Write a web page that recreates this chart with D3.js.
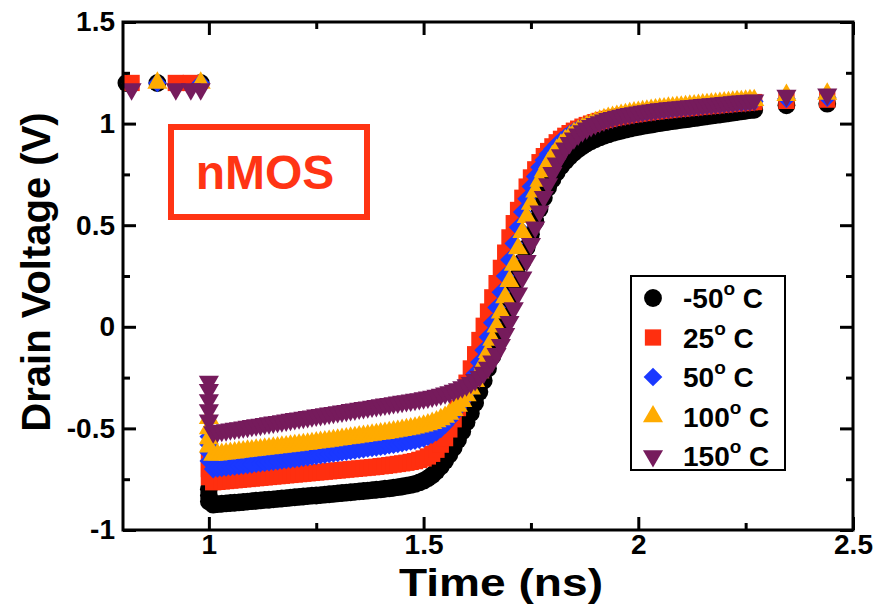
<!DOCTYPE html>
<html>
<head>
<meta charset="utf-8">
<script src="https://cdn.jsdelivr.net/npm/d3@7"></script>
<style>
  html, body { margin: 0; padding: 0; background: #ffffff; }
  svg { display: block; font-family: "Liberation Sans", Arial, sans-serif; }
</style>
</head>
<body>
<svg id="chart" width="888" height="605"></svg>
<script>
// ---- data: drain voltage (V) vs. time (ns) for five temperatures ----
const seriesLabels = ["-50", "25", "50", "100", "150"];

// sparse samples before the input edge
const leadTimes = [0.808, 0.82, 0.88, 0.923, 0.958, 0.981];
const leadM50 = [1.2, null, 1.2, null, null, 1.2];
const lead25  = [null, 1.2, null, 1.2, 1.2, null];
const lead50  = [null, null, 1.2, null, null, 1.2];
const lead100 = [null, null, 1.2, null, null, 1.2];
const lead150 = [null, 1.17, null, 1.17, 1.17, 1.17];

// samples taken at the switching instant t = 1.0 ns
const stackTime = 1.0;
const stackM50 = [-0.80, -0.83, -0.86];
const stack25  = [-0.66, -0.70, -0.74];
const stack50  = [-0.54, -0.58, -0.62, -0.66];
const stack100 = [-0.45, -0.50, -0.55, -0.59];
const stack150 = [-0.27, -0.31, -0.36, -0.41, -0.46];

// dense transient samples
const timeNs = [
  1.01,1.02,1.03,1.04,1.05,1.06,1.07,1.08,1.09,1.10,
  1.11,1.12,1.13,1.14,1.15,1.16,1.17,1.18,1.19,1.20,
  1.21,1.22,1.23,1.24,1.25,1.26,1.27,1.28,1.29,1.30,
  1.31,1.32,1.33,1.34,1.35,1.36,1.37,1.38,1.39,1.40,
  1.41,1.42,1.43,1.44,1.45,1.46,1.47,1.48,1.49,1.50,
  1.51,1.52,1.53,1.54,1.55,1.56,1.57,1.58,1.59,1.60,
  1.61,1.62,1.63,1.64,1.65,1.66,1.67,1.68,1.69,1.70,
  1.71,1.72,1.73,1.74,1.75,1.76,1.77,1.78,1.79,1.80,
  1.81,1.82,1.83,1.84,1.85,1.86,1.87,1.88,1.89,1.90,
  1.91,1.92,1.93,1.94,1.95,1.96,1.97,1.98,1.99,2.00,
  2.01,2.02,2.03,2.04,2.05,2.06,2.07,2.08,2.09,2.10,
  2.11,2.12,2.13,2.14,2.15,2.16,2.17,2.18,2.19,2.20,
  2.21,2.22,2.23,2.24,2.25,2.26,2.27
];

const voltsM50 = [
  -0.875,-0.873,-0.871,-0.869,-0.867,-0.866,-0.864,-0.862,-0.860,-0.858,
  -0.856,-0.854,-0.852,-0.851,-0.849,-0.847,-0.845,-0.843,-0.841,-0.839,
  -0.837,-0.835,-0.833,-0.831,-0.830,-0.828,-0.826,-0.824,-0.822,-0.820,
  -0.818,-0.816,-0.814,-0.812,-0.810,-0.808,-0.806,-0.804,-0.802,-0.800,
  -0.797,-0.795,-0.792,-0.789,-0.786,-0.782,-0.778,-0.773,-0.766,-0.757,
  -0.745,-0.730,-0.710,-0.687,-0.660,-0.630,-0.595,-0.557,-0.515,-0.470,
  -0.425,-0.375,-0.320,-0.265,-0.205,-0.145,-0.080,-0.015, 0.050, 0.115,
   0.180, 0.250, 0.320, 0.390, 0.455, 0.520, 0.580, 0.635, 0.685, 0.725,
   0.760, 0.790, 0.815, 0.837, 0.857, 0.874, 0.889, 0.902, 0.913, 0.923,
   0.932, 0.940, 0.947, 0.954, 0.960, 0.965, 0.970, 0.975, 0.980, 0.984,
   0.988, 0.992, 0.995, 0.999, 1.002, 1.006, 1.009, 1.012, 1.015, 1.018,
   1.021, 1.024, 1.027, 1.030, 1.033, 1.036, 1.039, 1.042, 1.045, 1.048,
   1.051, 1.054, 1.057, 1.060, 1.063, 1.066, 1.068
];

const volts25 = [
  -0.765,-0.763,-0.761,-0.759,-0.757,-0.755,-0.753,-0.751,-0.749,-0.747,
  -0.745,-0.743,-0.741,-0.739,-0.737,-0.735,-0.733,-0.731,-0.729,-0.727,
  -0.725,-0.723,-0.721,-0.719,-0.717,-0.715,-0.713,-0.711,-0.709,-0.707,
  -0.705,-0.703,-0.701,-0.699,-0.697,-0.695,-0.693,-0.691,-0.689,-0.686,
  -0.684,-0.681,-0.678,-0.675,-0.672,-0.669,-0.665,-0.661,-0.655,-0.648,
  -0.638,-0.625,-0.605,-0.580,-0.548,-0.505,-0.455,-0.400,-0.340,-0.275,
  -0.205,-0.135,-0.065, 0.005, 0.075, 0.145, 0.215, 0.290, 0.365, 0.440,
   0.510, 0.575, 0.635, 0.690, 0.735, 0.775, 0.810, 0.840, 0.865, 0.888,
   0.908, 0.925, 0.940, 0.953, 0.965, 0.975, 0.985, 0.993, 1.000, 1.007,
   1.013, 1.018, 1.023, 1.028, 1.032, 1.036, 1.040, 1.043, 1.046, 1.049,
   1.052, 1.055, 1.058, 1.060, 1.063, 1.065, 1.067, 1.070, 1.072, 1.074,
   1.076, 1.078, 1.080, 1.082, 1.084, 1.086, 1.088, 1.090, 1.092, 1.094,
   1.096, 1.098, 1.100, 1.101, 1.103, 1.105, 1.106
];

const volts50 = [
  -0.700,-0.697,-0.694,-0.692,-0.689,-0.687,-0.684,-0.682,-0.679,-0.677,
  -0.674,-0.671,-0.669,-0.666,-0.663,-0.661,-0.658,-0.655,-0.653,-0.650,
  -0.647,-0.644,-0.641,-0.638,-0.635,-0.632,-0.629,-0.626,-0.623,-0.620,
  -0.617,-0.614,-0.611,-0.608,-0.605,-0.602,-0.599,-0.596,-0.593,-0.590,
  -0.587,-0.583,-0.580,-0.576,-0.572,-0.568,-0.564,-0.560,-0.555,-0.549,
  -0.541,-0.531,-0.518,-0.502,-0.482,-0.458,-0.432,-0.400,-0.365,-0.325,
  -0.280,-0.230,-0.175,-0.115,-0.050, 0.020, 0.095, 0.170, 0.250, 0.330,
   0.410, 0.490, 0.565, 0.630, 0.690, 0.740, 0.785, 0.820, 0.850, 0.875,
   0.897, 0.917, 0.934, 0.949, 0.962, 0.974, 0.984, 0.993, 1.001, 1.008,
   1.015, 1.021, 1.026, 1.031, 1.035, 1.039, 1.043, 1.046, 1.049, 1.052,
   1.055, 1.058, 1.061, 1.063, 1.066, 1.068, 1.070, 1.073, 1.075, 1.077,
   1.079, 1.081, 1.083, 1.085, 1.087, 1.089, 1.091, 1.093, 1.095, 1.097,
   1.099, 1.101, 1.103, 1.104, 1.106, 1.108, 1.109
];

const volts100 = [
  -0.631,-0.629,-0.626,-0.624,-0.621,-0.619,-0.616,-0.614,-0.611,-0.609,
  -0.606,-0.604,-0.601,-0.599,-0.596,-0.594,-0.591,-0.589,-0.586,-0.584,
  -0.581,-0.578,-0.576,-0.573,-0.570,-0.567,-0.565,-0.562,-0.559,-0.556,
  -0.553,-0.550,-0.547,-0.544,-0.541,-0.538,-0.535,-0.532,-0.529,-0.526,
  -0.523,-0.520,-0.516,-0.513,-0.509,-0.505,-0.501,-0.497,-0.492,-0.487,
  -0.481,-0.474,-0.466,-0.456,-0.444,-0.429,-0.411,-0.390,-0.366,-0.338,
  -0.305,-0.268,-0.225,-0.178,-0.125,-0.065, 0.000, 0.070, 0.145, 0.225,
   0.305, 0.385, 0.465, 0.540, 0.605, 0.665, 0.718, 0.765, 0.805, 0.840,
   0.870, 0.895, 0.917, 0.936, 0.952, 0.966, 0.978, 0.989, 0.998, 1.006,
   1.014, 1.021, 1.027, 1.032, 1.037, 1.042, 1.046, 1.050, 1.054, 1.057,
   1.060, 1.063, 1.066, 1.069, 1.072, 1.074, 1.077, 1.079, 1.081, 1.083,
   1.085, 1.087, 1.089, 1.091, 1.093, 1.095, 1.097, 1.099, 1.101, 1.103,
   1.105, 1.107, 1.109, 1.110, 1.112, 1.114, 1.115
];

const volts150 = [
  -0.518,-0.515,-0.511,-0.508,-0.504,-0.501,-0.498,-0.494,-0.491,-0.487,
  -0.484,-0.481,-0.477,-0.474,-0.470,-0.467,-0.464,-0.460,-0.457,-0.453,
  -0.450,-0.447,-0.443,-0.440,-0.436,-0.433,-0.430,-0.426,-0.423,-0.419,
  -0.416,-0.413,-0.409,-0.406,-0.402,-0.399,-0.396,-0.392,-0.389,-0.385,
  -0.382,-0.379,-0.375,-0.372,-0.368,-0.365,-0.362,-0.358,-0.355,-0.351,
  -0.347,-0.343,-0.338,-0.333,-0.327,-0.321,-0.314,-0.306,-0.297,-0.287,
  -0.275,-0.261,-0.245,-0.225,-0.200,-0.170,-0.133,-0.088,-0.035, 0.025,
   0.092, 0.165, 0.243, 0.325, 0.408, 0.490, 0.568, 0.640, 0.703, 0.758,
   0.805, 0.845, 0.878, 0.905, 0.928, 0.947, 0.963, 0.977, 0.989, 0.999,
   1.008, 1.016, 1.023, 1.029, 1.035, 1.040, 1.044, 1.048, 1.052, 1.056,
   1.059, 1.062, 1.065, 1.068, 1.071, 1.073, 1.076, 1.078, 1.080, 1.082,
   1.084, 1.086, 1.088, 1.090, 1.092, 1.094, 1.096, 1.098, 1.100, 1.102,
   1.104, 1.106, 1.108, 1.110, 1.111, 1.113, 1.115
];

// sparse samples after the transient
const tailTimes = [2.345, 2.44];
const tailM50 = [1.090, 1.098];
const tail25  = [1.112, 1.118];
const tail50  = [1.122, 1.128];
const tail100 = [1.140, 1.146];
const tail150 = [1.138, 1.144];

// axis ticks
const xMajorTicks = [1, 1.5, 2, 2.5];
const xMinorTicks = [1.25, 1.75, 2.25];
const xTickLabels = ["1", "1.5", "2", "2.5"];
const yMajorTicks = [-1, -0.5, 0, 0.5, 1, 1.5];
const yMinorTicks = [-0.75, -0.25, 0.25, 0.75, 1.25];
const yTickLabels = ["-1", "-0.5", "0", "0.5", "1", "1.5"];

// ---- layout & style ----
const plot = { left: 123, right: 853, top: 22, bottom: 530 };
const colors = ["#000000", "#ff2f0f", "#1a38ff", "#ffab00", "#761b5c"];
const shapeKeys = ["circle", "square", "diamond", "up", "down"];
const labelFont = "'Liberation Sans', Arial, sans-serif";

const svg = d3.select("#chart");
const x = d3.scaleLinear().domain([0.8, 2.5]).range([plot.left, plot.right]);
const y = d3.scaleLinear().domain([-1, 1.5]).range([plot.bottom, plot.top]);

const symbolPaths = {
  circle: d3.symbol(d3.symbolCircle, 250)(),
  square: d3.symbol(d3.symbolSquare, 265)(),
  diamond: d3.symbol(d3.symbolSquare, 175)(),
  up: d3.symbol(d3.symbolTriangle, 175)(),
  down: d3.symbol(d3.symbolTriangle, 175)()
};
const symbolRotate = { circle: 0, square: 0, diamond: 45, up: 0, down: 180 };

function buildSeries(lead, stack, main, tail) {
  const pts = [];
  leadTimes.forEach((t, i) => { if (lead[i] !== null) pts.push([t, lead[i]]); });
  stack.forEach(v => pts.push([stackTime, v]));
  timeNs.forEach((t, i) => pts.push([t, main[i]]));
  tailTimes.forEach((t, i) => pts.push([t, tail[i]]));
  return pts;
}

const series = [
  buildSeries(leadM50, stackM50, voltsM50, tailM50),
  buildSeries(lead25, stack25, volts25, tail25),
  buildSeries(lead50, stack50, volts50, tail50),
  buildSeries(lead100, stack100, volts100, tail100),
  buildSeries(lead150, stack150, volts150, tail150)
];

// ---- markers ----
const marks = svg.append("g").attr("class", "marks");
series.forEach((pts, s) => {
  const key = shapeKeys[s];
  marks.append("g")
    .attr("fill", colors[s])
    .selectAll("path")
    .data(pts)
    .join("path")
    .attr("d", symbolPaths[key])
    .attr("transform", d => `translate(${x(d[0])},${y(d[1])}) rotate(${symbolRotate[key]})`);
});

// ---- axes (ticks pointing inward on all four sides) ----
function styleAxis(g) {
  g.select(".domain").remove();
  g.selectAll(".tick line").attr("stroke", "#000").attr("stroke-width", 3);
  g.selectAll(".tick text")
    .attr("fill", "#000")
    .style("font-family", labelFont)
    .style("font-weight", "bold")
    .style("font-size", "28px");
}

svg.append("g").attr("transform", `translate(0,${plot.bottom})`)
  .call(d3.axisBottom(x).tickValues(xMajorTicks).tickSize(-13).tickPadding(4)
    .tickFormat((d, i) => xTickLabels[i]))
  .call(styleAxis);
svg.append("g").attr("transform", `translate(0,${plot.bottom})`)
  .call(d3.axisBottom(x).tickValues(xMinorTicks).tickSize(-7).tickFormat(""))
  .call(styleAxis);
svg.append("g").attr("transform", `translate(0,${plot.top})`)
  .call(d3.axisTop(x).tickValues(xMajorTicks).tickSize(-13).tickFormat(""))
  .call(styleAxis);
svg.append("g").attr("transform", `translate(0,${plot.top})`)
  .call(d3.axisTop(x).tickValues(xMinorTicks).tickSize(-7).tickFormat(""))
  .call(styleAxis);

svg.append("g").attr("transform", `translate(${plot.left},0)`)
  .call(d3.axisLeft(y).tickValues(yMajorTicks).tickSize(-13).tickPadding(8)
    .tickFormat((d, i) => yTickLabels[i]))
  .call(styleAxis);
svg.append("g").attr("transform", `translate(${plot.left},0)`)
  .call(d3.axisLeft(y).tickValues(yMinorTicks).tickSize(-7).tickFormat(""))
  .call(styleAxis);
svg.append("g").attr("transform", `translate(${plot.right},0)`)
  .call(d3.axisRight(y).tickValues(yMajorTicks).tickSize(-13).tickFormat(""))
  .call(styleAxis);
svg.append("g").attr("transform", `translate(${plot.right},0)`)
  .call(d3.axisRight(y).tickValues(yMinorTicks).tickSize(-7).tickFormat(""))
  .call(styleAxis);

// plot frame
svg.append("rect")
  .attr("x", plot.left).attr("y", plot.top)
  .attr("width", plot.right - plot.left).attr("height", plot.bottom - plot.top)
  .attr("fill", "none").attr("stroke", "#000").attr("stroke-width", 3);

// axis titles
svg.append("text")
  .attr("x", 501).attr("y", 596)
  .attr("text-anchor", "middle")
  .style("font-family", labelFont).style("font-weight", "bold").style("font-size", "38px")
  .attr("textLength", 204).attr("lengthAdjust", "spacingAndGlyphs")
  .text("Time (ns)");
svg.append("text")
  .attr("transform", `translate(50,${(plot.top + plot.bottom) / 2 - 4}) rotate(-90)`)
  .attr("text-anchor", "middle")
  .style("font-family", labelFont).style("font-weight", "bold").style("font-size", "40px")
  .text("Drain Voltage (V)");

// device annotation
svg.append("rect")
  .attr("x", 171).attr("y", 127).attr("width", 196).attr("height", 90)
  .attr("fill", "none").attr("stroke", "#ff3414").attr("stroke-width", 6);
svg.append("text")
  .attr("x", 265).attr("y", 189)
  .attr("text-anchor", "middle")
  .attr("fill", "#ff3414")
  .style("font-family", labelFont).style("font-weight", "bold").style("font-size", "48px")
  .text("nMOS");

// ---- legend ----
const legend = svg.append("g").attr("class", "legend");
legend.append("rect")
  .attr("x", 631).attr("y", 276).attr("width", 154).attr("height", 194)
  .attr("fill", "#fff").attr("stroke", "#000").attr("stroke-width", 2);
seriesLabels.forEach((lab, i) => {
  const cy = 298 + i * 39.5;
  const key = shapeKeys[i];
  legend.append("path")
    .attr("d", symbolPaths[key])
    .attr("fill", colors[i])
    .attr("transform", `translate(653,${cy}) rotate(${symbolRotate[key]})`);
  const t = legend.append("text")
    .attr("x", 683).attr("y", cy + 10)
    .style("font-family", labelFont).style("font-weight", "bold").style("font-size", "28px");
  t.append("tspan").text(lab);
  t.append("tspan").attr("dy", -13).style("font-size", "19px").text("o");
  t.append("tspan").attr("dy", 13).text(" C");
});
</script>
</body>
</html>
